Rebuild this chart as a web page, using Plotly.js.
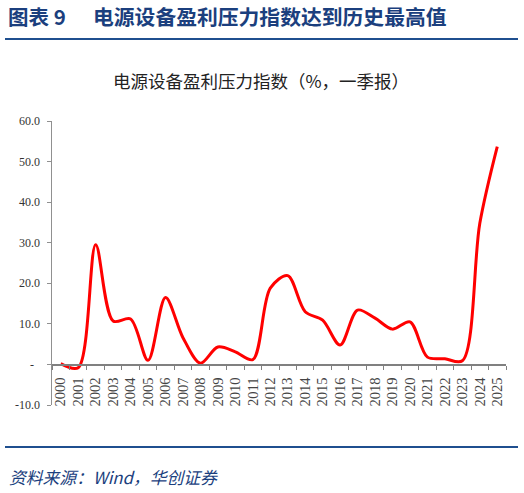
<!DOCTYPE html>
<html>
<head>
<meta charset="utf-8">
<script src="https://cdn.plot.ly/plotly-3.0.1.min.js"></script>
<style>
  html, body { margin: 0; padding: 0; background: #fff; }
  #chart { width: 524px; height: 493px; }
</style>
</head>
<body>
<div id="chart"></div>
<script>
// Power equipment profit-pressure index, Q1 reports, 2000-2025.
const years = ["2000", "2001", "2002", "2003", "2004", "2005", "2006", "2007", "2008", "2009",
  "2010", "2011", "2012", "2013", "2014", "2015", "2016", "2017", "2018", "2019",
  "2020", "2021", "2022", "2023", "2024", "2025"];
const pressureIdx = [0.2, -0.8, 29.5, 10.7, 11.2, 1.0, 16.5, 6.6, 0.3, 4.3,
  3.1, 1.2, 18.8, 21.9, 13.0, 10.9, 4.8, 13.4, 11.4, 8.7,
  10.5, 1.8, 1.4, 0.9, 34.8, 53.7];
const yTicks = [-10, 0, 10, 20, 30, 40, 50, 60];
const yTickText = ["-10.0", "-\u00a0\u00a0", "10.0", "20.0", "30.0", "40.0", "50.0", "60.0"];

const W = 524, H = 493;
const M = { l: 52, r: 18, t: 121, b: 88 };
const NAVY = "#1b3f7e";
const CJK = "'Noto Sans CJK SC', 'Liberation Serif', serif";
const NUM = "'Liberation Serif', 'DejaVu Serif', serif";

// pixel -> paper coords, for the header/footer decorations
const pw = W - M.l - M.r, ph = H - M.t - M.b;
const px = (x) => (x - M.l) / pw;
const py = (y) => (H - M.b - y) / ph;

const hline = (y, x0, x1) => ({
  type: "line", xref: "paper", yref: "paper",
  x0: px(x0), x1: px(x1), y0: py(y), y1: py(y),
  line: { color: "#1f4f8f", width: 2.2 },
});

const annotations = [
  { text: "<b>图表 9</b>", x: px(6), y: py(16), xanchor: "left", yanchor: "middle",
    font: { family: CJK, size: 20.5, color: NAVY } },
  { text: "<b>电源设备盈利压力指数达到历史最高值</b>", x: px(91), y: py(16), xanchor: "left", yanchor: "middle",
    font: { family: CJK, size: 20.8, color: NAVY } },
  { text: "电源设备盈利压力指数（%，一季报）", x: px(261), y: py(80), xanchor: "center", yanchor: "middle",
    font: { family: CJK, size: 17.5, color: "#222" } },
  { text: "<i>资料来源：Wind，华创证券</i>", x: px(7), y: py(477), xanchor: "left", yanchor: "middle",
    font: { family: CJK, size: 16.8, color: NAVY } },
].map((a) => ({ xref: "paper", yref: "paper", showarrow: false, ...a }));

const trace = {
  x: years, y: pressureIdx, type: "scatter", mode: "lines",
  line: { color: "#ff0000", width: 3, shape: "spline", smoothing: 0.9 },
  hoverinfo: "x+y",
};

const layout = {
  width: W, height: H,
  margin: M,
  paper_bgcolor: "#fff", plot_bgcolor: "#fff",
  showlegend: false,
  font: { family: NUM, size: 11, color: "#333" },
  xaxis: {
    type: "category", range: [-0.5, 25.5],
    anchor: "free", position: 10 / 70,
    showline: true, linecolor: "#808080", linewidth: 1.3,
    ticks: "outside", tickson: "boundaries", ticklen: 4, tickcolor: "#808080",
    ticklabelstandoff: 6,
    tickangle: -90, tickfont: { family: NUM, size: 14.5, color: "#444" },
    showgrid: false, zeroline: false, fixedrange: true,
  },
  yaxis: {
    range: [-10, 60], tickmode: "array", tickvals: yTicks, ticktext: yTickText,
    showline: true, linecolor: "#909090", linewidth: 1.5,
    ticks: "outside", ticklen: 4, tickcolor: "#909090", ticklabelstandoff: 4,
    tickfont: { family: NUM, size: 12, color: "#333" },
    showgrid: false, zeroline: false, fixedrange: true,
  },
  shapes: [hline(39, 5, 518), hline(447, 5, 518)],
  annotations,
};

Plotly.newPlot("chart", [trace], layout, { displayModeBar: false, staticPlot: true });
</script>
</body>
</html>
